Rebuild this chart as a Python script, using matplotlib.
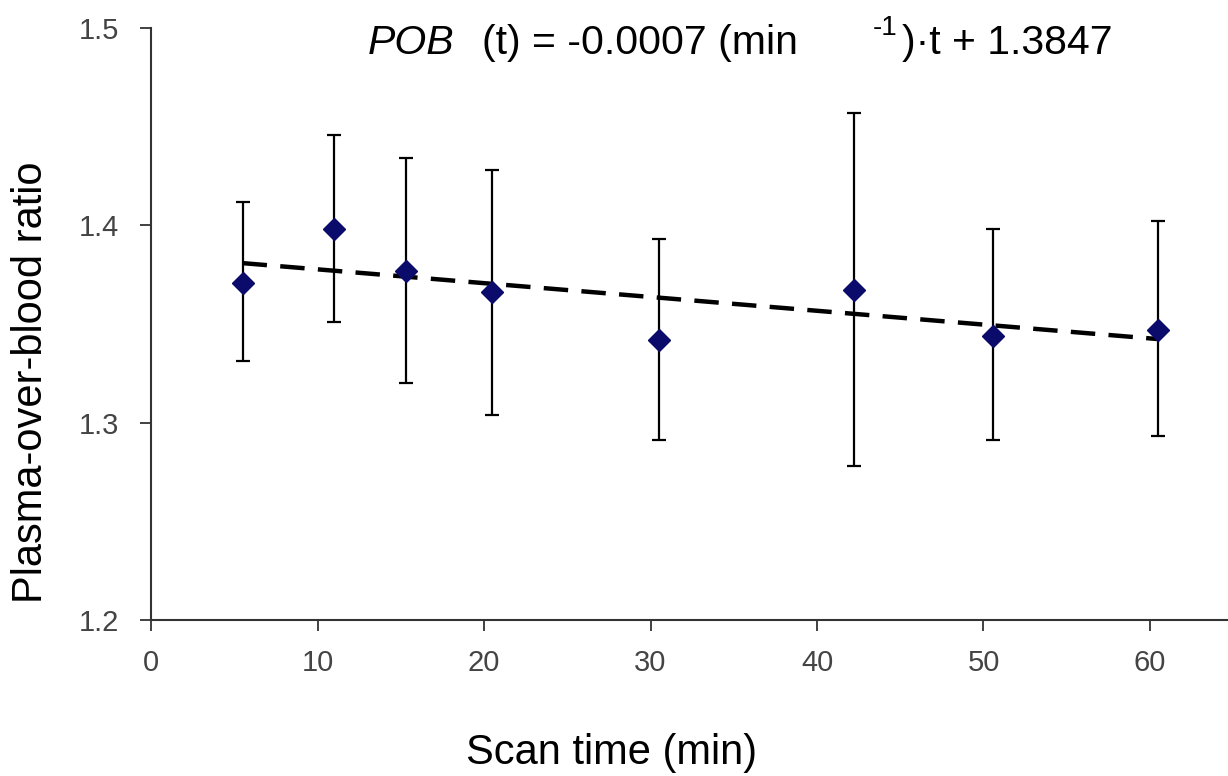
import numpy as np
import matplotlib.pyplot as plt

plt.rcParams['font.family'] = ['Liberation Sans', 'DejaVu Sans']

# scan time (min) and plasma-over-blood ratio
scan_time = [5.5, 11.0, 15.3, 20.5, 30.5, 42.2, 50.6, 60.5]
pob = [1.371, 1.398, 1.377, 1.366, 1.342, 1.367, 1.344, 1.347]
err_hi = [1.412, 1.446, 1.434, 1.428, 1.393, 1.457, 1.398, 1.402]
err_lo = [1.331, 1.351, 1.320, 1.304, 1.291, 1.278, 1.291, 1.293]

# linear fit from the equation
slope = -0.0007
intercept = 1.3847
fit_range = [5.5, 60.5]

yerr = [np.array(pob) - np.array(err_lo), np.array(err_hi) - np.array(pob)]

fig = plt.figure(figsize=(12.28, 7.76), dpi=100)
ax = fig.add_axes([151 / 1228, 1 - 620 / 776, 1 - 151 / 1228, (620 - 28) / 776])

ax.errorbar(scan_time, pob, yerr=yerr, fmt='none', ecolor='black',
            elinewidth=1.6, capsize=5, capthick=1.6, zorder=2)
tt = np.array(fit_range)
ax.plot(tt, slope * tt + intercept, color='black', lw=3.2,
        linestyle=(0, (5.5, 3)), zorder=3)
ax.plot(scan_time, pob, linestyle='none', marker='D', ms=11,
        color='#0b0b6b', zorder=4)

ax.set_xlim(0, (1228 - 151) / 16.65)
ax.set_ylim(1.2, 1.5)
ax.set_xticks([0, 10, 20, 30, 40, 50, 60])
ax.set_yticks([1.2, 1.3, 1.4, 1.5])
ax.set_yticklabels(['1.2', '1.3', '1.4', '1.5'])

for s in ['top', 'right']:
    ax.spines[s].set_visible(False)
for s in ['left', 'bottom']:
    ax.spines[s].set_color('#333333')
    ax.spines[s].set_linewidth(1.5)

ax.tick_params(axis='both', direction='out', length=8, width=1.3,
               color='#333333', labelcolor='#444444', labelsize=21)
ax.tick_params(axis='x', pad=13)
ax.tick_params(axis='y', pad=15)

fig.text(612 / 1228, 12 / 776, 'Scan time (min)', ha='center',
         va='baseline', fontsize=30)
fig.text(31 / 1228, 1 - 382 / 776, 'Plasma-over-blood ratio', ha='center',
         va='center', rotation=90, fontsize=30)

# equation on top
yb = 1 - 54 / 776
fig.text(368 / 1228, yb, 'POB', style='italic', fontsize=29.5, va='baseline')
fig.text(482 / 1228, yb, '(t) = -0.0007 (min', fontsize=29.5, va='baseline')
fig.text(873 / 1228, 1 - 35 / 776, '-1', fontsize=20, va='baseline')
fig.text(902 / 1228, yb, ')\u00b7t + 1.3847', fontsize=29.5, va='baseline')

fig.savefig('out.png', dpi=100)
